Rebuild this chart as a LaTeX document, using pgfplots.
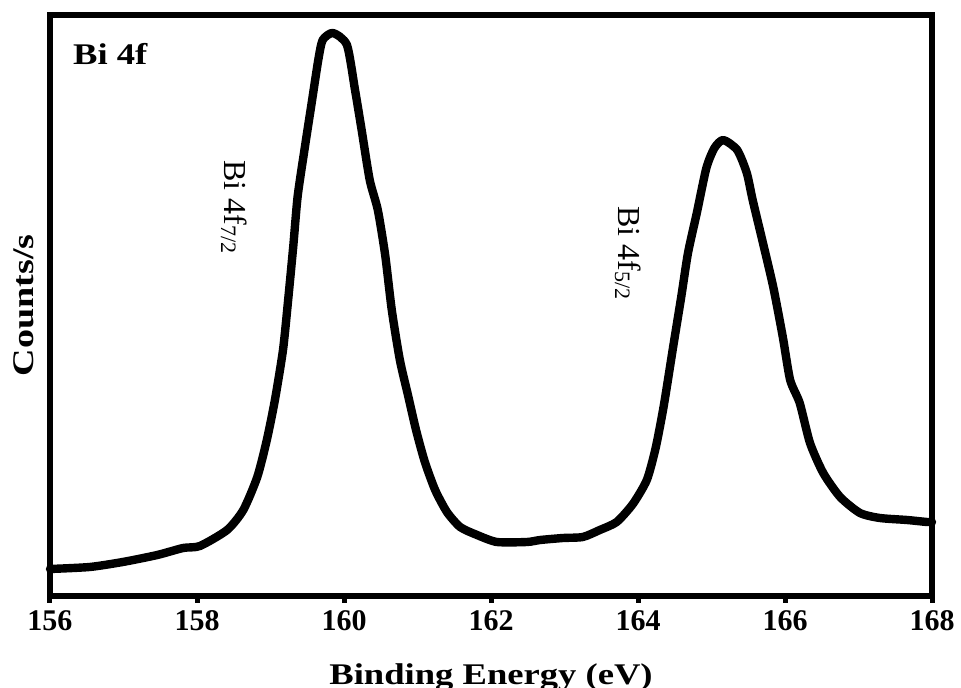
\documentclass[border=0pt]{standalone}
\usepackage{pgfplots}
\pgfplotsset{compat=1.18}
\usepackage{fontspec}
\setmainfont{Liberation Serif}
\newcommand{\wide}[1]{\scalebox{1.22}[1]{#1}}

\begin{document}
\begin{tikzpicture}
\path[use as bounding box] (-25pt,-46pt) rectangle (455.5pt,298pt);
\begin{axis}[
  at={(0,0)}, anchor=south west,
  width=441pt, height=290.5pt, scale only axis,
  xmin=156, xmax=168, ymin=0, ymax=581,
  xtick={156,158,160,162,164,166,168},
  ytick=\empty,
  xtick pos=left,
  tick align=outside,
  major tick length=3.5pt,
  every tick/.style={black, line width=2.5pt},
  axis line style={line width=2.75pt},
  /pgf/number format/assume math mode=true,
  /pgf/number format/1000 sep={},
  xticklabel style={font=\fontsize{15}{18}\selectfont\bfseries, anchor=base, yshift=-14pt},
  xlabel={\wide{Binding Energy (eV)}},
  xlabel style={font=\fontsize{15}{18}\selectfont\bfseries, at={(rel axis cs:0.5,-0.152)}, anchor=base},
  ylabel={\scalebox{1.27}[1]{Counts/s}},
  ylabel style={font=\fontsize{15}{18}\selectfont\bfseries, at={(rel axis cs:-0.0295,0.5)}, anchor=center},
  clip=false,
]
\addplot[black, line width=4.2pt, line join=round, line cap=round, smooth, tension=0.4] table {
x y
156.00 27
156.54 29
156.99 34
157.46 41
157.81 48
158.04 50
158.41 66
158.63 86
158.82 119
158.95 156
159.06 196
159.17 246
159.24 296
159.31 350
159.37 400
159.47 450
159.56 493
159.65 536
159.71 556
159.85 563
160.04 551
160.15 506
160.24 466
160.35 416
160.46 386
160.56 341
160.65 286
160.76 236
160.87 201
160.98 166
161.10 134
161.24 106
161.40 84
161.58 69
161.81 61
162.08 54
162.49 54
162.67 56
162.98 58
163.25 59
163.48 66
163.71 74
163.93 92
164.12 116
164.24 148
164.35 190
164.48 250
164.59 300
164.68 343
164.80 383
164.93 428
165.04 448
165.16 456
165.35 446
165.48 423
165.56 396
165.70 353
165.84 309
165.97 259
166.07 216
166.20 193
166.34 153
166.52 123
166.75 99
167.02 83
167.29 78
167.66 76
167.93 74
168.00 74
};
\node[anchor=north west, inner sep=0pt, font=\fontsize{15}{18}\selectfont\bfseries] at (axis cs:156.31,553) {\wide{Bi 4f}};
\node[rotate=-90, inner sep=0pt, font=\fontsize{16}{19}\selectfont] at (axis cs:158.50,389) {Bi 4f{\fontsize{11}{13}\selectfont\raisebox{-0.3ex}{7/2}}};
\node[rotate=-90, inner sep=0pt, font=\fontsize{16}{19}\selectfont] at (axis cs:163.86,343) {Bi 4f{\fontsize{11}{13}\selectfont\raisebox{-0.3ex}{5/2}}};
\end{axis}
\end{tikzpicture}
\end{document}
